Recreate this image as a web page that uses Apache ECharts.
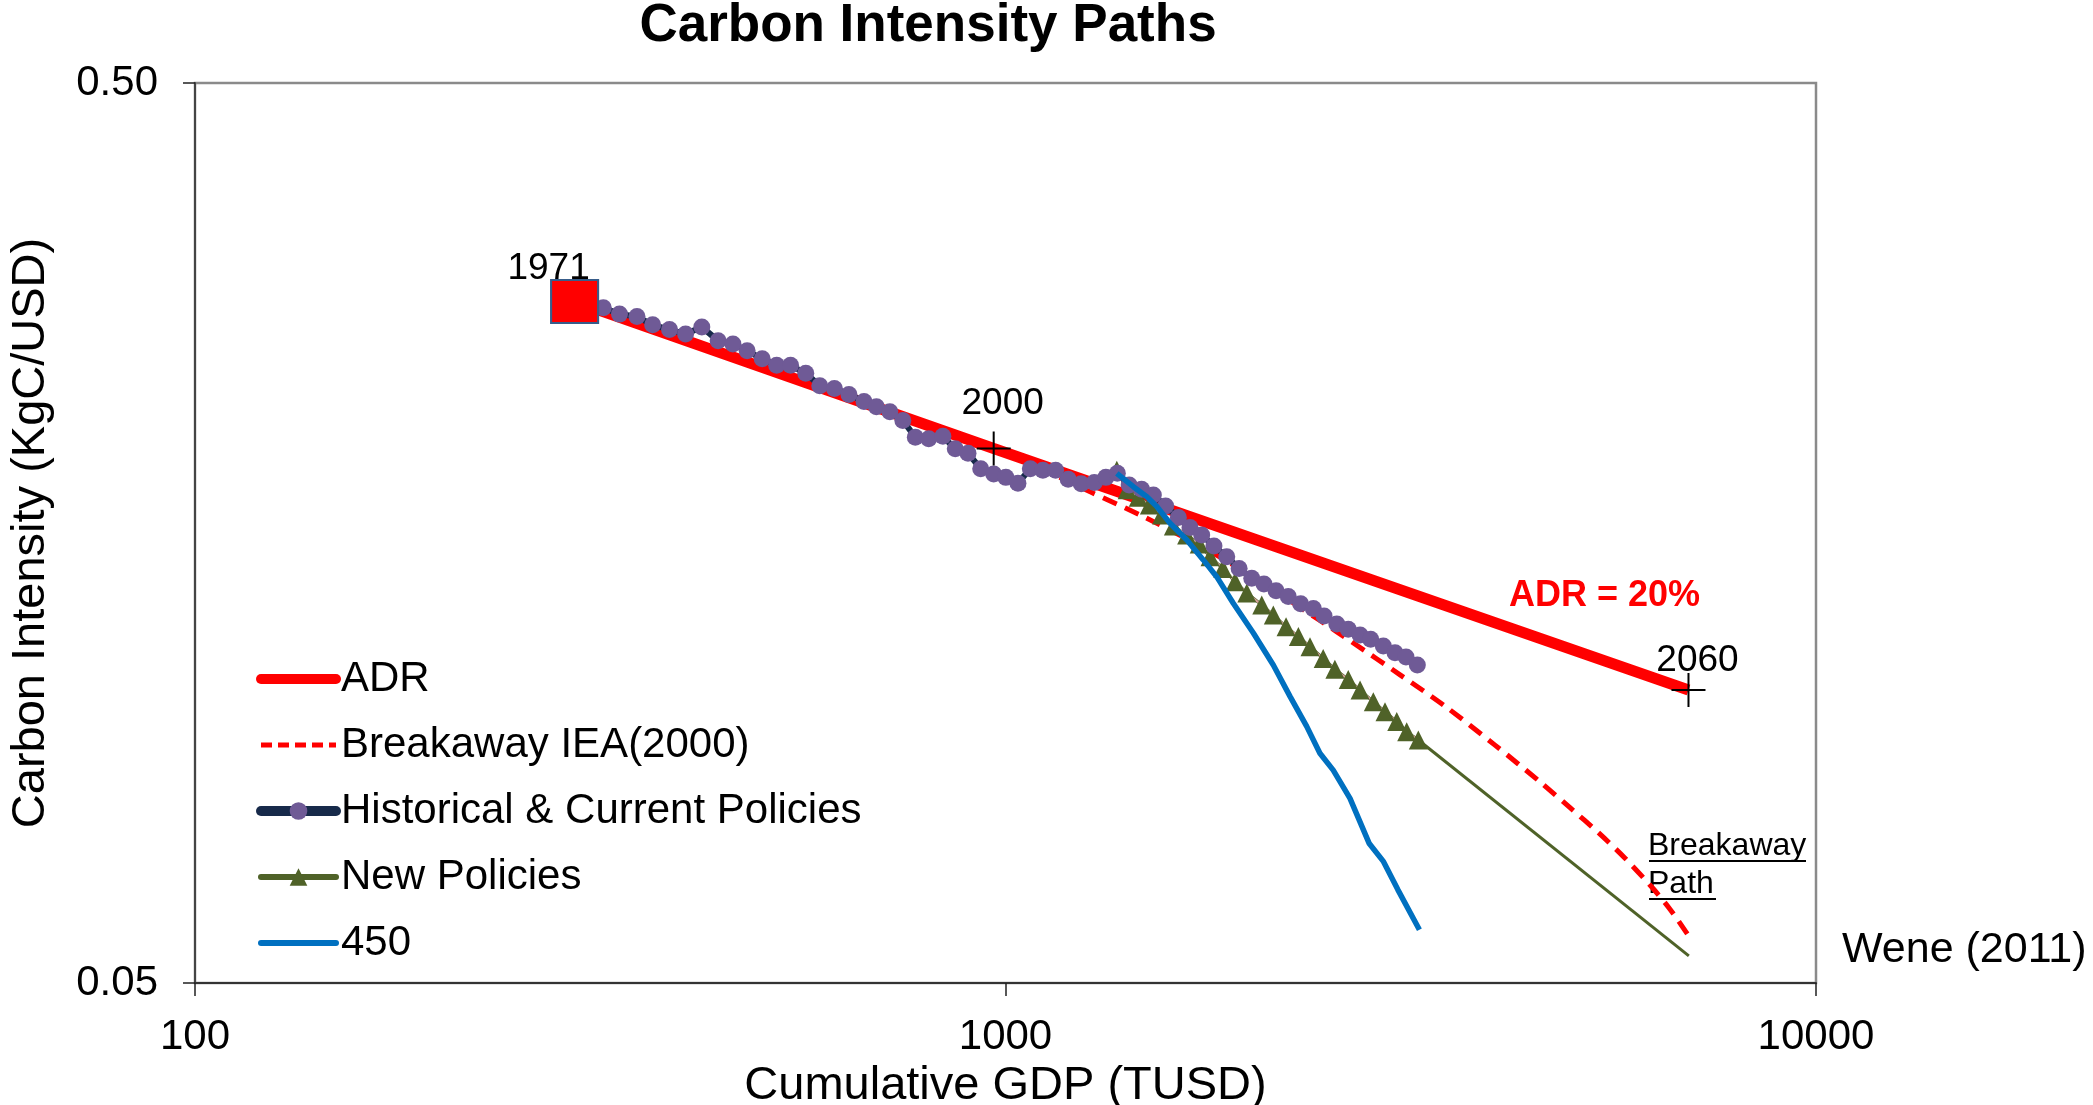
<!DOCTYPE html>
<html><head><meta charset="utf-8">
<script src="https://cdn.jsdelivr.net/npm/echarts@6/dist/echarts.min.js"></script>
<style>html,body{margin:0;padding:0;background:#fff}#c{width:2093px;height:1105px}</style>
</head><body><div id="c"></div>
<script>
// ---- data ----
const xTicks = [100, 1000, 10000];
const yTicks = [0.05, 0.5];

const adrGdp = [294, 967, 6961];
const adrCI = [0.2859, 0.1963, 0.1058];
const adrYears = ['1971', '2000', '2060'];

const breakGdp = [967, 1103, 1272, 1465, 1642, 1839, 2121, 2443, 2684, 3068, 3492, 4017, 4583, 4972, 5394, 5813, 6263, 6605, 6975];
const breakCI = [0.1963, 0.1867, 0.1757, 0.1656, 0.1572, 0.1487, 0.1374, 0.1264, 0.1194, 0.1100, 0.1014, 0.0919, 0.0834, 0.0783, 0.0734, 0.0688, 0.0640, 0.0604, 0.0563];

const histGdp = [294, 305, 319, 334, 351, 367, 385, 403, 422, 442, 461, 480, 501, 522, 543, 567, 590, 615, 641, 669, 693, 720, 747, 774, 804, 837, 867, 899, 932, 967, 1001, 1036, 1073, 1112, 1153, 1195, 1240, 1287, 1330, 1374, 1421, 1472, 1522, 1576, 1634, 1689, 1746, 1808, 1875, 1942, 2013, 2084, 2157, 2233, 2313, 2398, 2472, 2563, 2648, 2738, 2822, 2925, 3024, 3120, 3222];
const histCI = [0.2859, 0.2836, 0.2813, 0.2768, 0.2751, 0.2693, 0.2661, 0.2630, 0.2679, 0.2585, 0.2564, 0.2520, 0.2469, 0.2428, 0.2428, 0.2379, 0.2305, 0.2289, 0.2254, 0.2214, 0.2184, 0.2156, 0.2109, 0.2020, 0.2012, 0.2025, 0.1961, 0.1939, 0.1864, 0.1839, 0.1823, 0.1796, 0.1864, 0.1857, 0.1857, 0.1814, 0.1793, 0.1799, 0.1823, 0.1842, 0.1788, 0.1768, 0.1743, 0.1694, 0.1645, 0.1604, 0.1573, 0.1529, 0.1488, 0.1444, 0.1408, 0.1388, 0.1364, 0.1344, 0.1319, 0.1303, 0.1279, 0.1253, 0.1236, 0.1218, 0.1205, 0.1184, 0.1164, 0.1151, 0.1128];

const newGdp = [1372, 1413, 1458, 1505, 1558, 1611, 1673, 1734, 1788, 1854, 1920, 1985, 2071, 2140, 2219, 2298, 2375, 2466, 2549, 2648, 2738, 2843, 2939, 3039, 3126, 3231];
const newCI = [0.1857, 0.1766, 0.1733, 0.1699, 0.1656, 0.1610, 0.1573, 0.1537, 0.1488, 0.1444, 0.1396, 0.1356, 0.1315, 0.1282, 0.1244, 0.1213, 0.1182, 0.1147, 0.1116, 0.1087, 0.1058, 0.1027, 0.1001, 0.0976, 0.0951, 0.0931];

const newExtGdp = [3231, 6968];
const newExtCI = [0.0931, 0.0536];

const p450Gdp = [1372, 1438, 1494, 1537, 1596, 1673, 1754, 1822, 1910, 2022, 2140, 2244, 2353, 2443, 2537, 2661, 2809, 2927, 3048, 3241];
const p450CI = [0.1842, 0.1780, 0.1735, 0.1692, 0.1621, 0.1554, 0.1476, 0.1414, 0.1321, 0.1224, 0.1128, 0.1041, 0.0964, 0.0900, 0.0862, 0.0802, 0.0715, 0.0682, 0.0635, 0.0573];

// ---- chart ----
const FONT = "'Liberation Sans', Arial, sans-serif";
const zip = (xs, ys) => xs.map((x, i) => [x, ys[i]]);
const CROSS = 'path://M0,-1L0,1M-1,0L1,0';

const chart = echarts.init(document.getElementById('c'), null, {renderer: 'canvas'});

const option = {
  animation: false,
  backgroundColor: '#fff',
  textStyle: {fontFamily: FONT},
  grid: {left: 195, right: 277, top: 83, bottom: 122, show: true, borderColor: '#8a8a8a', borderWidth: 2.5, backgroundColor: 'transparent', containLabel: false, outerBoundsMode: 'none'},
  xAxis: {
    type: 'log', logBase: 10, min: xTicks[0], max: xTicks[xTicks.length - 1],
    name: 'Cumulative GDP (TUSD)', nameLocation: 'middle', nameGap: 80,
    nameTextStyle: {fontSize: 47, color: '#000', fontFamily: FONT},
    axisLine: {show: true, onZero: false, lineStyle: {color: '#333', width: 2}},
    axisTick: {show: true, inside: false, length: 13, customValues: xTicks, lineStyle: {color: '#222', width: 1.5}},
    axisLabel: {fontSize: 42, color: '#000', margin: 33, fontFamily: FONT, customValues: xTicks, formatter: v => String(Math.round(v))},
    splitLine: {show: false}, minorTick: {show: false}
  },
  yAxis: {
    type: 'log', logBase: 10, min: yTicks[0], max: yTicks[1],
    name: 'Carbon Intensity (KgC/USD)', nameLocation: 'middle', nameGap: 140,
    nameTextStyle: {fontSize: 47, color: '#000', fontFamily: FONT},
    axisLine: {show: true, onZero: false, lineStyle: {color: '#444', width: 2}},
    axisTick: {show: true, inside: false, length: 12, customValues: yTicks, lineStyle: {color: '#222', width: 1.5}},
    axisLabel: {fontSize: 42, color: '#000', margin: 37, fontFamily: FONT, customValues: yTicks, formatter: v => v.toFixed(2)},
    splitLine: {show: false}, minorTick: {show: false}
  },
  legend: {
    orient: 'vertical', left: 256, top: 658, padding: 0,
    itemWidth: 75, itemHeight: 22, itemGap: 24,
    textStyle: {fontSize: 42, color: '#000', fontFamily: FONT, lineHeight: 40},
    data: [
      {name: 'ADR', lineStyle: {width: 10, cap: 'round'}, itemStyle: {opacity: 0}},
      {name: 'Breakaway IEA(2000)', lineStyle: {width: 5, type: [11, 6]}, itemStyle: {opacity: 0}},
      {name: 'Historical & Current Policies', lineStyle: {width: 10, cap: 'round'}},
      {name: 'New Policies', lineStyle: {width: 6, cap: 'round'}},
      {name: '450', lineStyle: {width: 6, cap: 'round'}, itemStyle: {opacity: 0}}
    ]
  },
  series: [
    {
      name: 'ADR', type: 'line', data: zip(adrGdp, adrCI), symbol: 'none',
      lineStyle: {color: '#ff0000', width: 11}, itemStyle: {color: '#ff0000'}, z: 2
    },
    {
      name: 'Breakaway IEA(2000)', type: 'line', data: zip(breakGdp, breakCI), symbol: 'none', smooth: 0.3,
      lineStyle: {color: '#ff0000', width: 5, type: [15, 9]}, itemStyle: {color: '#ff0000'}, z: 2
    },
    {
      name: 'New Policies', type: 'line', data: zip(newGdp, newCI), symbol: 'triangle', symbolSize: 19, showAllSymbol: true,
      lineStyle: {color: '#4f6228', width: 3}, itemStyle: {color: '#4f6228', opacity: 1}, z: 3
    },
    {
      name: 'np-trend', type: 'line', data: zip(newGdp, newCI), symbol: 'none',
      lineStyle: {color: '#d9a3a0', width: 2}, z: 3
    },
    {
      name: 'np-ext', type: 'line', data: zip(newExtGdp, newExtCI), symbol: 'none',
      lineStyle: {color: '#4f6228', width: 3}, z: 3
    },
    {
      name: 'Historical & Current Policies', type: 'line', data: zip(histGdp, histCI), symbol: 'circle', symbolSize: 17, showAllSymbol: true,
      lineStyle: {color: '#172a4a', width: 6}, itemStyle: {color: '#6f5a96', opacity: 1}, z: 4
    },
    {
      name: '450', type: 'line', data: zip(p450Gdp, p450CI), symbol: 'none',
      lineStyle: {color: '#0070c0', width: 5.5}, itemStyle: {color: '#0070c0'}, z: 5
    },
    {
      name: 'marks', type: 'scatter', z: 6,
      data: adrGdp.map((g, i) => i === 0 ? {
        value: [g, adrCI[i]], symbol: 'rect', symbolSize: [47, 43],
        itemStyle: {color: '#ff0000', borderColor: '#385d8a', borderWidth: 2, opacity: 1},
        label: {offset: [-26, -33]}
      } : {
        value: [g, adrCI[i]], symbol: CROSS, symbolSize: 34,
        itemStyle: {color: 'rgba(0,0,0,0)', borderColor: '#000', borderWidth: 2, opacity: 1},
        label: {offset: [9, i === 1 ? -45 : -29]}
      }),
      label: {show: true, position: 'inside', fontSize: 37, color: '#000', fontFamily: FONT, textBorderWidth: 0,
        formatter: p => adrYears[p.dataIndex]}
    }
  ],
  graphic: [
    {type: 'text', x: 928, y: 26, style: {text: 'Carbon Intensity Paths', font: 'bold 53px ' + FONT, fill: '#000', align: 'center', verticalAlign: 'middle'}},
    {type: 'text', x: 1509, y: 596, style: {text: 'ADR = 20%', font: 'bold 36px ' + FONT, fill: '#ff0000', align: 'left', verticalAlign: 'middle'}},
    {type: 'text', x: 1648, y: 846, style: {text: 'Breakaway', font: '32px ' + FONT, fill: '#000', align: 'left', verticalAlign: 'middle'}},
    {type: 'text', x: 1648, y: 884, style: {text: 'Path', font: '32px ' + FONT, fill: '#000', align: 'left', verticalAlign: 'middle'}},
    {type: 'line', shape: {x1: 1649, y1: 861, x2: 1806, y2: 861}, style: {stroke: '#000', lineWidth: 2}},
    {type: 'line', shape: {x1: 1649, y1: 899, x2: 1716, y2: 899}, style: {stroke: '#000', lineWidth: 2}},
    {type: 'text', x: 1842, y: 950, style: {text: 'Wene (2011)', font: '43px ' + FONT, fill: '#000', align: 'left', verticalAlign: 'middle'}}
  ]
};
chart.setOption(option);
</script>
</body></html>
